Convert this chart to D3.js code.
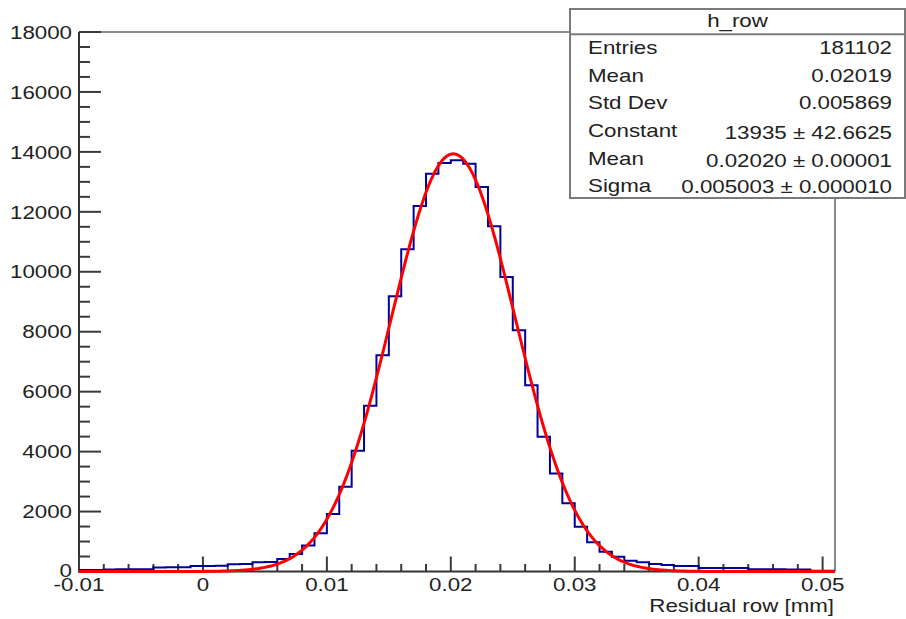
<!DOCTYPE html>
<html>
<head>
<meta charset="utf-8">
<script src="https://cdn.jsdelivr.net/npm/d3@7"></script>
<style>
  html, body { margin: 0; padding: 0; background: #fff; }
  svg { display: block; }
  text { font-family: "Liberation Sans", Arial, sans-serif; fill: #222; }
</style>
</head>
<body>
<svg id="chart" width="906" height="619"></svg>
<script>
// Histogram h_row: 61 bins of width 0.001 mm from -0.010 to 0.051 mm
const binLow = -0.010;
const binWidth = 0.001;
const counts = [
  50, 50, 70, 73, 75, 78, 135, 140, 145, 180,
  183, 188, 245, 252, 312, 320, 417, 583, 870, 1273,
  1917, 2827, 4027, 5527, 7217, 9183, 10750, 12193, 13273, 13627,
  13717, 13607, 12827, 11517, 9827, 8050, 6217, 4493, 3273, 2273,
  1493, 975, 660, 493, 360, 307, 250, 217, 185, 180,
  120, 117, 115, 113, 75, 73, 72, 70, 68, 27,
  25
];

// Gaussian fit parameters (Constant, Mean, Sigma)
const fitParams = [13935, 0.02020, 0.005003];

// Axis ticks
const xTicks = [-0.01, 0, 0.01, 0.02, 0.03, 0.04, 0.05];
const xTickLabels = ["-0.01", "0", "0.01", "0.02", "0.03", "0.04", "0.05"];
const yTicks = [0, 2000, 4000, 6000, 8000, 10000, 12000, 14000, 16000, 18000];
const xTitle = "Residual row [mm]";

// Statistics box
const statsTitle = "h_row";
const statsLabels = ["Entries", "Mean", "Std Dev", "Constant", "Mean", "Sigma"];
const statsValues = ["181102", "0.02019", "0.005869", "13935 \u00b1 42.6625", "0.02020 \u00b1 0.00001", "0.005003 \u00b1 0.000010"];

const svg = d3.select("#chart");
const frame = { left: 79, right: 835, top: 32, bottom: 571.5 };
const xMax = binLow + counts.length * binWidth;
const x = d3.scaleLinear().domain([binLow, xMax]).range([frame.left, frame.right]);
const y = d3.scaleLinear().domain([0, 18000]).range([frame.bottom, frame.top]);
const FS = 18.6, SX = 1.2;

// frame background
svg.append("rect").attr("x", frame.left).attr("y", frame.top)
  .attr("width", frame.right - frame.left).attr("height", frame.bottom - frame.top)
  .attr("fill", "#fff");

// top and right frame borders
svg.append("path")
  .attr("d", `M${frame.left},${frame.top}H${frame.right}V${frame.bottom}`)
  .attr("fill", "none").attr("stroke", "#6a6a6a").attr("stroke-width", 1.6);

// Y axis: ticks point inward (to the right)
const yMinor = d3.range(0, 18001, 500);
svg.append("g").selectAll("line").data(yMinor).join("line")
  .attr("x1", frame.left)
  .attr("x2", d => frame.left + (d % 2000 === 0 ? 22 : 11))
  .attr("y1", d => y(d)).attr("y2", d => y(d))
  .attr("stroke", "#3a3a3a").attr("stroke-width", 2);
svg.append("line").attr("x1", frame.left).attr("x2", frame.left)
  .attr("y1", frame.top).attr("y2", frame.bottom + 1)
  .attr("stroke", "#333").attr("stroke-width", 2);
svg.append("g").selectAll("text").data(yTicks).join("text")
  .attr("transform", d => `translate(72,${y(d) + 6.7 - (d === 0 ? 1.5 : 0)}) scale(${SX},1)`)
  .attr("text-anchor", "end").attr("font-size", FS)
  .text(d => d);

// X axis: ticks point upward
const xMinor = d3.range(-10, 51, 2).map(v => v / 1000);
svg.append("g").selectAll("line").data(xMinor).join("line")
  .attr("x1", d => x(d)).attr("x2", d => x(d))
  .attr("y1", frame.bottom)
  .attr("y2", d => frame.bottom - (Math.abs(Math.round(d * 1000)) % 10 === 0 ? 15 : 7.5))
  .attr("stroke", "#3a3a3a").attr("stroke-width", 2);
svg.append("line").attr("x1", frame.left - 1).attr("x2", frame.right)
  .attr("y1", frame.bottom).attr("y2", frame.bottom)
  .attr("stroke", "#333").attr("stroke-width", 2);
svg.append("g").selectAll("text").data(xTicks).join("text")
  .attr("transform", (d, i) => `translate(${x(d)},591) scale(${SX},1)`)
  .attr("text-anchor", "middle").attr("font-size", FS)
  .text((d, i) => xTickLabels[i]);
svg.append("text")
  .attr("transform", `translate(834,612) scale(${SX},1)`)
  .attr("text-anchor", "end").attr("font-size", FS)
  .text(xTitle);

// histogram outline drawn as steps
const stepPts = counts.map((c, i) => [binLow + i * binWidth, c]);
stepPts.push([xMax, counts[counts.length - 1]]);
svg.append("path")
  .datum(stepPts)
  .attr("d", d3.line().x(d => x(d[0])).y(d => y(d[1])).curve(d3.curveStepAfter))
  .attr("fill", "none").attr("stroke", "#000099").attr("stroke-width", 2);

// Gaussian fit curve
const [C, mu, sig] = fitParams;
const fitX = d3.range(0, 611).map(i => binLow + i * (xMax - binLow) / 610);
svg.append("path")
  .datum(fitX)
  .attr("d", d3.line().x(d => x(d)).y(d => y(C * Math.exp(-0.5 * ((d - mu) / sig) ** 2))))
  .attr("fill", "none").attr("stroke", "#ff0000").attr("stroke-width", 3)
  .attr("stroke-linejoin", "round");

// statistics box
const box = { x: 570, y: 9, w: 335, h: 189 };
const sb = svg.append("g");
sb.append("rect").attr("x", box.x).attr("y", box.y).attr("width", box.w).attr("height", box.h)
  .attr("fill", "#fff").attr("stroke", "#7a7a7a").attr("stroke-width", 2);
sb.append("line").attr("x1", box.x).attr("x2", box.x + box.w)
  .attr("y1", 34.3).attr("y2", 34.3).attr("stroke", "#7a7a7a").attr("stroke-width", 2);
sb.append("text")
  .attr("transform", `translate(${box.x + box.w / 2},27) scale(${SX},1)`)
  .attr("text-anchor", "middle").attr("font-size", FS).text(statsTitle);
const labelBase = [54, 81.7, 109.3, 136.7, 165, 191.7];
const valueBase = [54, 81.7, 109.3, 139.3, 166.7, 192.7];
sb.selectAll("text.lab").data(statsLabels).join("text").attr("class", "lab")
  .attr("transform", (d, i) => `translate(588,${labelBase[i]}) scale(${SX},1)`)
  .attr("font-size", FS).text(d => d);
sb.selectAll("text.val").data(statsValues).join("text").attr("class", "val")
  .attr("transform", (d, i) => `translate(892,${valueBase[i]}) scale(${SX},1)`)
  .attr("text-anchor", "end").attr("font-size", FS).text(d => d);
</script>
</body>
</html>
